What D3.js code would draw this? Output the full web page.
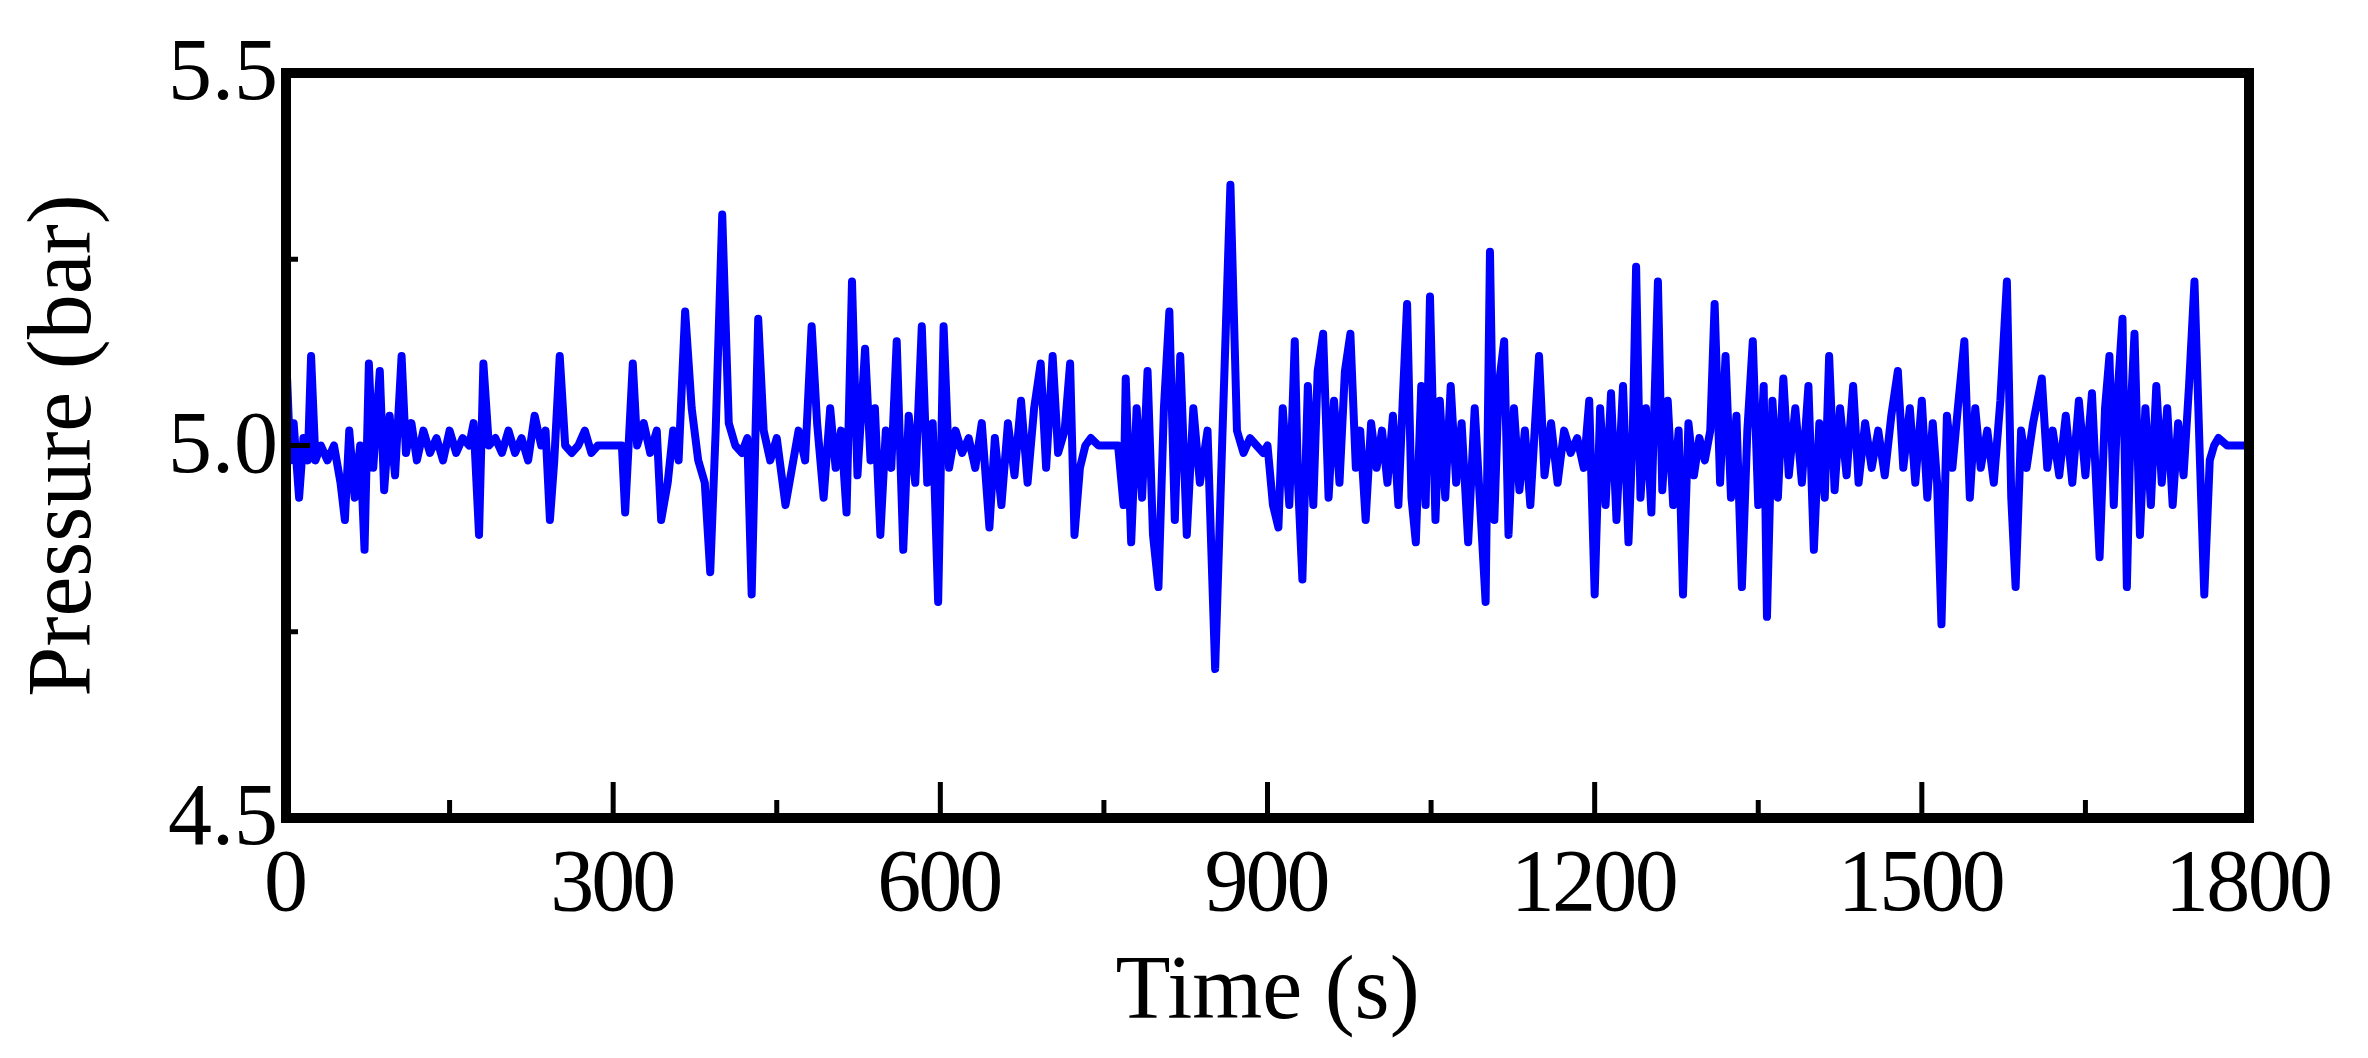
<!DOCTYPE html>
<html>
<head>
<meta charset="utf-8">
<script src="https://cdn.jsdelivr.net/npm/d3@7"></script>
<style>body{margin:0;background:#fff;} text{font-family:"Liberation Serif","Times New Roman",serif;}</style>
</head>
<body>
<svg id="svg1" width="2368" height="1058"></svg>
<script>
var time = [0,1,4,7,12,16,20,23,27,32,38,44,50,54,58,63,68,72,76,80,86,90,95,100,106,110,115,120,126,132,138,144,150,156,162,168,172,177,181,186,192,198,204,210,216,222,228,234,238,242,246,251,256,262,268,274,280,286,300,308,311,318,322,328,334,340,344,350,355,360,366,372,378,384,389,394,400,406,412,418,423,427,433,438,444,450,458,464,470,476,482,487,493,499,504,509,514,519,524,531,536,540,545,550,555,560,566,571,577,583,588,593,598,603,608,614,620,626,632,638,645,650,656,662,668,674,680,686,692,697,703,708,714,719,723,728,733,738,745,755,763,768,770,775,780,785,790,795,800,805,810,815,820,826,832,838,845,852,859,866,872,878,884,890,896,900,905,910,914,920,925,928,932,937,942,946,951,956,961,966,971,976,981,985,990,995,1000,1005,1010,1015,1020,1024,1028,1032,1036,1041,1045,1049,1054,1058,1063,1068,1073,1078,1084,1090,1095,1100,1104,1108,1112,1117,1121,1126,1131,1136,1141,1145,1149,1154,1160,1166,1172,1178,1184,1190,1195,1200,1205,1210,1215,1220,1226,1231,1235,1238,1242,1247,1252,1258,1262,1267,1272,1277,1281,1286,1291,1296,1301,1306,1310,1315,1320,1325,1330,1335,1340,1345,1350,1355,1358,1363,1368,1373,1378,1384,1390,1396,1401,1406,1411,1415,1420,1425,1431,1437,1442,1448,1454,1460,1466,1472,1478,1483,1489,1494,1500,1505,1510,1514,1518,1523,1528,1533,1539,1544,1549,1554,1560,1566,1572,1578,1582,1586,1591,1596,1602,1610,1615,1620,1626,1632,1638,1644,1650,1656,1663,1668,1672,1676,1680,1684,1688,1692,1695,1700,1705,1710,1715,1720,1725,1730,1735,1740,1745,1750,1755,1759,1764,1768,1772,1780,1800];
var pressure = [4.50,5.09,4.98,5.03,4.93,5.01,4.98,5.12,4.98,5.00,4.98,5.00,4.95,4.90,5.02,4.93,5.00,4.86,5.11,4.97,5.10,4.94,5.04,4.96,5.12,4.99,5.03,4.98,5.02,4.99,5.01,4.98,5.02,4.99,5.01,5.00,5.03,4.88,5.11,5.00,5.01,4.99,5.02,4.99,5.01,4.98,5.04,5.00,5.02,4.90,4.98,5.12,5.00,4.99,5.00,5.02,4.99,5.00,5.00,5.00,4.91,5.11,5.00,5.03,4.99,5.02,4.90,4.95,5.02,4.98,5.18,5.05,4.98,4.95,4.83,5.02,5.31,5.03,5.00,4.99,5.01,4.80,5.17,5.02,4.98,5.01,4.92,4.97,5.02,4.98,5.16,5.03,4.93,5.05,4.97,5.02,4.91,5.22,4.96,5.13,4.98,5.05,4.88,5.02,4.97,5.14,4.86,5.04,4.95,5.16,4.95,5.03,4.79,5.16,4.97,5.02,4.99,5.01,4.97,5.03,4.89,5.01,4.92,5.03,4.96,5.06,4.95,5.05,5.11,4.97,5.12,4.99,5.02,5.11,4.88,4.97,5.00,5.01,5.00,5.00,5.00,4.92,5.09,4.87,5.05,4.93,5.10,4.88,4.81,5.05,5.18,4.90,5.12,4.88,5.05,4.95,5.02,4.70,5.03,5.35,5.02,4.99,5.01,5.00,4.99,5.00,4.92,4.89,5.05,4.92,5.14,4.95,4.82,5.08,4.92,5.10,5.15,4.93,5.06,4.95,5.10,5.15,4.97,5.02,4.90,5.03,4.97,5.02,4.95,5.04,4.92,5.06,5.19,4.93,4.87,5.08,4.92,5.20,4.90,5.06,4.93,5.08,4.95,5.03,4.87,5.05,4.92,4.79,5.26,4.90,5.08,5.14,4.88,5.05,4.94,5.02,4.92,5.02,5.12,4.96,5.03,4.95,5.02,4.99,5.01,4.97,5.06,4.80,5.05,4.92,5.07,4.90,5.08,4.87,5.02,5.24,4.93,5.05,4.91,5.22,4.94,5.06,4.92,5.02,4.80,5.03,4.96,5.01,4.98,5.02,5.19,4.95,5.12,4.93,5.04,4.81,5.02,5.14,4.92,5.08,4.77,5.06,4.93,5.09,4.96,5.05,4.95,5.08,4.86,5.03,4.93,5.12,4.94,5.05,4.96,5.08,4.95,5.03,4.97,5.02,4.96,5.04,5.10,4.97,5.05,4.95,5.06,4.93,5.03,4.95,4.76,5.04,4.97,5.05,5.14,4.93,5.05,4.97,5.02,4.95,5.06,5.22,4.93,4.81,5.02,4.97,5.03,5.09,4.97,5.02,4.96,5.04,4.95,5.06,4.96,5.07,4.85,5.05,5.12,4.92,5.08,5.17,4.81,5.06,5.15,4.88,5.05,4.92,5.08,4.95,5.05,4.92,5.03,4.96,5.08,5.22,4.98,4.80,4.98,5.00,5.01,5.00,5.00];
var xTicks = [0,300,600,900,1200,1500,1800];
var xMinor = [150,450,750,1050,1350,1650];
var yTicks = [4.5,5.0,5.5];
var yMinor = [4.75,5.25];

var margin = {top: 73, right: 119, bottom: 240, left: 286};
var width = 2368 - margin.left - margin.right;
var height = 1058 - margin.top - margin.bottom;

var svg = d3.select("#svg1")
  .append("g")
    .attr("transform", "translate(" + margin.left + "," + margin.top + ")");

var x = d3.scaleLinear().domain([0, 1800]).range([0, width]);
var y = d3.scaleLinear().domain([4.5, 5.5]).range([height, 0]);

svg.append("clipPath").attr("id", "clip")
  .append("rect").attr("width", width).attr("height", height);

var data = time.map(function (t, i) { return [t, pressure[i]]; });

svg.append("path")
  .datum(data)
  .attr("clip-path", "url(#clip)")
  .attr("fill", "none")
  .attr("stroke", "#0000ff")
  .attr("stroke-width", 8)
  .attr("stroke-linejoin", "round")
  .attr("d", d3.line().x(function (d) { return x(d[0]); }).y(function (d) { return y(d[1]); }));

// ticks (inward)
function ticks(vals, len, horiz) {
  svg.append("g").selectAll("line").data(vals).enter().append("line")
    .attr("x1", function (d) { return horiz ? x(d) : 0; })
    .attr("x2", function (d) { return horiz ? x(d) : len; })
    .attr("y1", function (d) { return horiz ? height : y(d); })
    .attr("y2", function (d) { return horiz ? height - len : y(d); })
    .attr("stroke", "#000").attr("stroke-width", 5);
}
ticks(xTicks, 36, true);
ticks(xMinor, 18, true);
ticks([5.0], 24, false);
ticks(yMinor, 12, false);

svg.append("rect").attr("width", width).attr("height", height)
  .attr("fill", "none").attr("stroke", "#000").attr("stroke-width", 10);

svg.append("g").selectAll("text").data(xTicks).enter().append("text")
  .attr("x", function (d) { return x(d); })
  .attr("y", height + 92)
  .attr("text-anchor", "middle")
  .attr("font-size", 88)
  .attr("textLength", function (d) { return String(d).length * 42; })
  .text(function (d) { return d; });

svg.append("g").selectAll("text").data(yTicks).enter().append("text")
  .attr("x", -8)
  .attr("y", function (d) { return y(d) + 26; })
  .attr("text-anchor", "end")
  .attr("font-size", 88)
  .text(function (d) { return d.toFixed(1); });

svg.append("text")
  .attr("x", width / 2).attr("y", height + 200)
  .attr("text-anchor", "middle").attr("font-size", 90)
  .text("Time (s)");

svg.append("text")
  .attr("transform", "translate(-196," + (height / 2) + ") rotate(-90)")
  .attr("text-anchor", "middle").attr("font-size", 90)
  .text("Pressure (bar)");
</script>
</body>
</html>
